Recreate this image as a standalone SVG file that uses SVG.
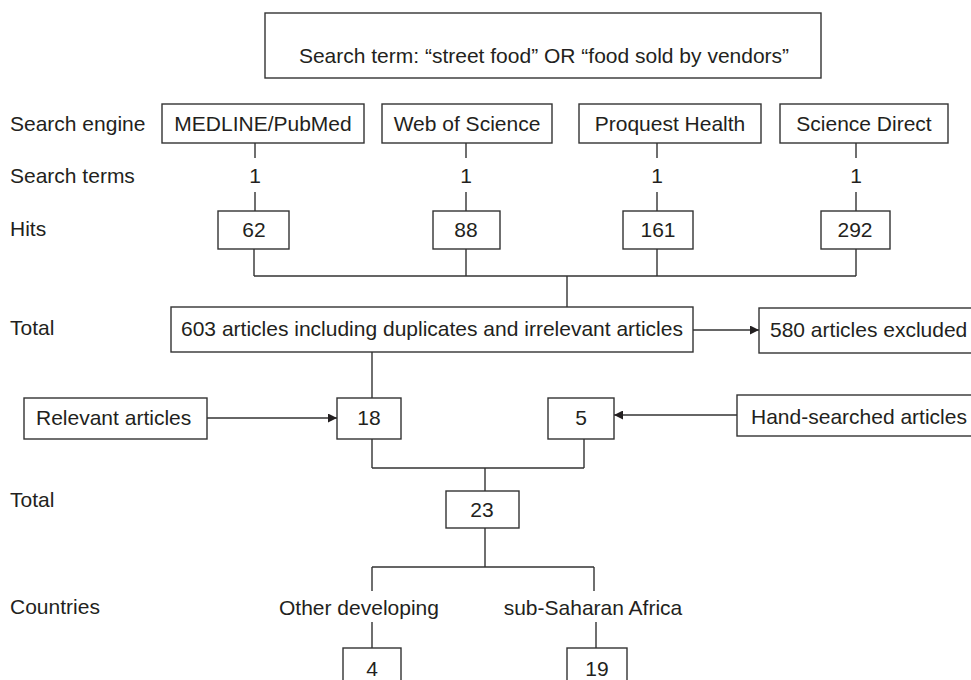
<svg xmlns="http://www.w3.org/2000/svg" width="971" height="680" viewBox="0 0 971 680">
<defs>
<style>
text{font-family:"Liberation Sans",Arial,sans-serif;font-size:21px;fill:#231f20}
.c{text-anchor:middle}
rect{fill:#fff;stroke:#333;stroke-width:1.4}
.ln{stroke:#333;stroke-width:1.4;fill:none}
</style>
<marker id="ah" viewBox="0 0 10 10" refX="10" refY="5" markerWidth="10" markerHeight="9" markerUnits="userSpaceOnUse" orient="auto">
<path d="M0,0 L10,5 L0,10 z" fill="#231f20"/>
</marker>
</defs>
<rect x="0" y="0" width="971" height="680" style="stroke:none;fill:#fff"/>
<g id="labels">
<text x="10" y="131">Search engine</text>
<text x="10" y="183">Search terms</text>
<text x="10" y="236">Hits</text>
<text x="10" y="335">Total</text>
<text x="10" y="507">Total</text>
<text x="10" y="614">Countries</text>
</g>
<g id="connectors">
<path class="ln" d="M255,143V158M255,192V211M466,143V158M466,192V211M657,143V158M657,192V211M856,143V158M856,192V211"/>
<path class="ln" d="M254,249V276M466,249V276M657,249V276M856,249V276M254,276H856M567,276V307"/>
<path class="ln" d="M693,330H759" marker-end="url(#ah)"/>
<path class="ln" d="M372,352V398"/>
<path class="ln" d="M207,418H337" marker-end="url(#ah)"/>
<path class="ln" d="M737,415H614" marker-end="url(#ah)"/>
<path class="ln" d="M372,439V468M584,439V468M372,468H584M485,468V491"/>
<path class="ln" d="M485,528V567M372,567H594M372,567V591M594,567V591"/>
<path class="ln" d="M372,622V648M596,622V648"/>
</g>
<g id="n-search"><rect x="265" y="13" width="556" height="65"/><text class="c" x="544" y="63">Search term: “street food” OR “food sold by vendors”</text></g>
<g id="n-medline"><rect x="162" y="104" width="202" height="39"/><text class="c" x="263" y="131">MEDLINE/PubMed</text></g>
<g id="n-wos"><rect x="382" y="104" width="170" height="39"/><text class="c" x="467" y="131">Web of Science</text></g>
<g id="n-proquest"><rect x="579" y="104" width="182" height="39"/><text class="c" x="670" y="131">Proquest Health</text></g>
<g id="n-sd"><rect x="780" y="104" width="168" height="39"/><text class="c" x="864" y="131">Science Direct</text></g>
<g id="st1"><text class="c" x="255" y="183">1</text></g>
<g id="st2"><text class="c" x="466" y="183">1</text></g>
<g id="st3"><text class="c" x="657" y="183">1</text></g>
<g id="st4"><text class="c" x="856" y="183">1</text></g>
<g id="h62"><rect x="218" y="211" width="71" height="38"/><text class="c" x="254" y="237">62</text></g>
<g id="h88"><rect x="433" y="211" width="67" height="38"/><text class="c" x="466" y="237">88</text></g>
<g id="h161"><rect x="623" y="211" width="70" height="38"/><text class="c" x="658" y="237">161</text></g>
<g id="h292"><rect x="821" y="211" width="69" height="38"/><text class="c" x="855" y="237">292</text></g>
<g id="n603"><rect x="171" y="307" width="522" height="45"/><text class="c" x="432" y="336">603 articles including duplicates and irrelevant articles</text></g>
<g id="n580"><rect x="759" y="308" width="225" height="45"/><text x="770" y="337">580 articles excluded</text></g>
<g id="nrel"><rect x="24" y="398" width="183" height="41"/><text x="36" y="425">Relevant articles</text></g>
<g id="n18"><rect x="337" y="398" width="64" height="41"/><text class="c" x="369" y="425">18</text></g>
<g id="n5"><rect x="548" y="398" width="66" height="41"/><text class="c" x="581" y="425">5</text></g>
<g id="nhand"><rect x="737" y="395" width="245" height="41"/><text x="751" y="424">Hand-searched articles</text></g>
<g id="n23"><rect x="446" y="491" width="73" height="37"/><text class="c" x="482" y="517">23</text></g>
<g id="nother"><text class="c" x="359" y="615">Other developing</text></g>
<g id="nssa"><text class="c" x="593" y="615">sub-Saharan Africa</text></g>
<g id="n4"><rect x="343" y="648" width="58" height="45"/><text class="c" x="372" y="676">4</text></g>
<g id="n19"><rect x="567" y="648" width="60" height="45"/><text class="c" x="597" y="676">19</text></g>
</svg>
